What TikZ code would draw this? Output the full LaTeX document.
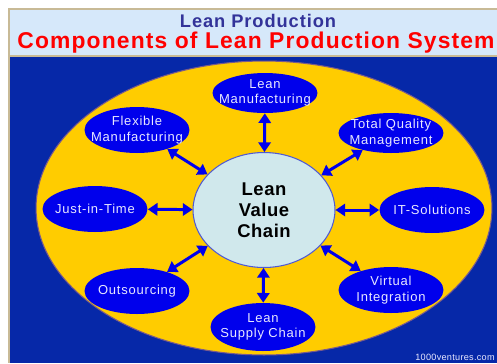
\documentclass[tikz,border=0pt]{standalone}
\usepackage{fontspec}
\setmainfont{Liberation Sans}
\usepackage{xcolor}
\usetikzlibrary{shapes.geometric,arrows.meta}

\definecolor{headbg}{RGB}{214,232,250}
\definecolor{frame}{RGB}{200,186,150}
\definecolor{deepblue}{RGB}{6,40,168}
\definecolor{gold}{RGB}{255,204,0}
\definecolor{satblue}{RGB}{0,0,236}
\definecolor{sattxt}{RGB}{232,232,255}
\definecolor{hubfill}{RGB}{208,232,236}
\definecolor{titleblue}{RGB}{51,51,153}

\begin{document}
\begin{tikzpicture}[
    x=0.02cm, y=-0.02cm,
    sat/.style={ellipse, fill=satblue, inner sep=0pt, minimum width=2.1cm, minimum height=0.92cm},
    sattext/.style={text=sattxt, font=\fontsize{7.4}{8.9}\selectfont\addfontfeature{LetterSpace=6}, align=center},
    link/.style={{Triangle[length=5.5pt,width=7pt]}-{Triangle[length=5.5pt,width=7pt]}, line width=1.7pt, draw=satblue}
]
    \useasboundingbox (0,0) rectangle (497,363);
    \clip (0,0) rectangle (497,363);

    % Header
    \fill[headbg] (9,9) rectangle (497,56);
    \draw[frame, line width=1.2pt] (497,9) -- (9,9) -- (9,363);
    \draw[frame, line width=1.2pt] (9,56) -- (497,56);
    \node[anchor=base, text=titleblue, font=\bfseries\fontsize{10.4}{12}\selectfont\addfontfeature{LetterSpace=5}] (subtitle) at (258,27) {Lean Production};
    \node[anchor=base, text=red, font=\bfseries\fontsize{13}{15}\selectfont\addfontfeature{LetterSpace=5}] (title) at (256,48) {Components of Lean Production System};

    % Background
    \fill[deepblue] (10,57) rectangle (497,363);
    \node[ellipse, fill=gold, draw={rgb,255:red,120;green,90;blue,140}, line width=0.6pt,
          minimum width=9.12cm, minimum height=5.88cm] (field) at (264,208) {};

    % Lean value chain
    \node[ellipse, fill=hubfill, draw={rgb,255:red,80;green,90;blue,210}, line width=0.6pt,
          inner sep=0pt, minimum width=2.84cm, minimum height=2.3cm,
          label={[align=center, font=\bfseries\fontsize{10.5}{12.1}\selectfont\addfontfeature{LetterSpace=3}]center:Lean\\Value\\Chain}] (hub) at (264,210) {};

    % Components
    \node[sat, minimum height=0.8cm, label={[sattext]center:Lean\\Manufacturing}] (lm) at (265,93) {};
    \node[sat, label={[sattext]center:Flexible\\Manufacturing}] (fm) at (137,130) {};
    \node[sat, minimum height=0.8cm, label={[sattext]center:Total Quality\\Management}] (tqm) at (391,133) {};
    \node[sat, label={[sattext]center:Just-in-Time}] (jit) at (95,209) {};
    \node[sat, label={[sattext]center:IT-Solutions}] (its) at (432,210) {};
    \node[sat, label={[sattext]center:Outsourcing}] (out) at (137,291) {};
    \node[sat, label={[sattext]center:Virtual\\Integration}] (vi) at (391,290) {};
    \node[sat, minimum height=0.96cm, label={[sattext]center:Lean\\Supply Chain}] (lsc) at (263,327) {};

    % Arrows
    \foreach \s in {lm,fm,tqm,jit,its,out,vi,lsc}
        \draw[link] (hub) -- (\s);

    % Credit
    \node[anchor=base east, inner sep=0pt, text=sattxt, font=\fontsize{5.2}{6}\selectfont\addfontfeature{LetterSpace=3}] (credit) at (495,360) {1000ventures.com};
\end{tikzpicture}
\end{document}
